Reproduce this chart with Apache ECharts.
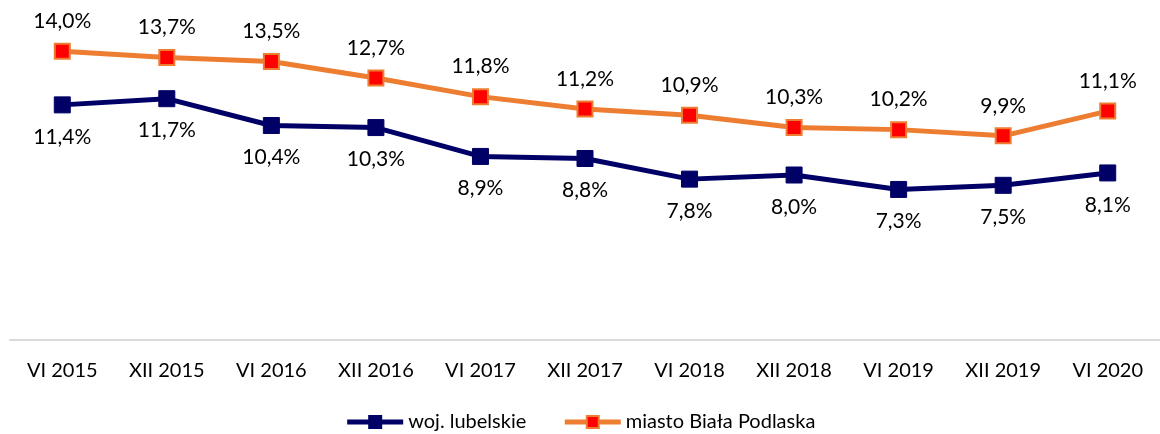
<!DOCTYPE html>
<html>
<head>
<meta charset="utf-8">
<script src="https://cdn.jsdelivr.net/npm/echarts@6/dist/echarts.min.js"></script>
<style>
  html, body { margin: 0; padding: 0; background: #fff; }
  #chart { width: 1160px; height: 434px; }
</style>
</head>
<body>
<div id="chart"></div>
<script>
const categories = ['VI 2015', 'XII 2015', 'VI 2016', 'XII 2016', 'VI 2017', 'XII 2017', 'VI 2018', 'XII 2018', 'VI 2019', 'XII 2019', 'VI 2020']
const lubelskie = [11.4, 11.7, 10.4, 10.3, 8.9, 8.8, 7.8, 8.0, 7.3, 7.5, 8.1]
const bialaPodlaska = [14.0, 13.7, 13.5, 12.7, 11.8, 11.2, 10.9, 10.3, 10.2, 9.9, 11.1]

const font = 'Lato, "Open Sans", sans-serif'
const fmt = p => p.value.toFixed(1).replace('.', ',') + '%'

const chart = echarts.init(document.getElementById('chart'))
const option = {
  animation: false,
  textStyle: { fontFamily: font },
  grid: {
    top: 10,
    left: 10,
    right: 0,
    bottom: 94
  },
  legend: {
    bottom: -3,
    left: 'center',
    itemWidth: 56,
    itemHeight: 15,
    itemGap: 36,
    lineStyle: { width: 5 },
    textStyle: { fontSize: 20, color: '#000', fontFamily: font },
    data: ['woj. lubelskie', 'miasto Biała Podlaska']
  },
  xAxis: {
    type: 'category',
    data: categories,
    axisLine: { lineStyle: { color: '#d9d9d9', width: 2 } },
    axisTick: { show: false },
    axisLabel: { fontSize: 20, color: '#000', margin: 21, fontFamily: font }
  },
  yAxis: {
    type: 'value',
    min: 0,
    max: 16,
    show: false,
    splitLine: { show: false }
  },
  series: [
    {
      name: 'woj. lubelskie',
      type: 'line',
      data: lubelskie,
      symbol: 'rect',
      symbolSize: 16,
      lineStyle: { color: '#000066', width: 5 },
      itemStyle: { color: '#000066', borderColor: '#000066', borderWidth: 1 },
      label: {
        show: true,
        position: 'bottom',
        distance: 13,
        fontSize: 21,
        color: '#000',
        fontFamily: font,
        formatter: fmt
      }
    },
    {
      name: 'miasto Biała Podlaska',
      type: 'line',
      data: bialaPodlaska,
      symbol: 'rect',
      symbolSize: 15,
      lineStyle: { color: '#ED7D31', width: 5 },
      itemStyle: { color: '#FF0000', borderColor: '#ED7D31', borderWidth: 2 },
      label: {
        show: true,
        position: 'top',
        distance: 11,
        fontSize: 21,
        color: '#000',
        fontFamily: font,
        formatter: fmt
      }
    }
  ]
}
chart.setOption(option)
</script>
</body>
</html>
